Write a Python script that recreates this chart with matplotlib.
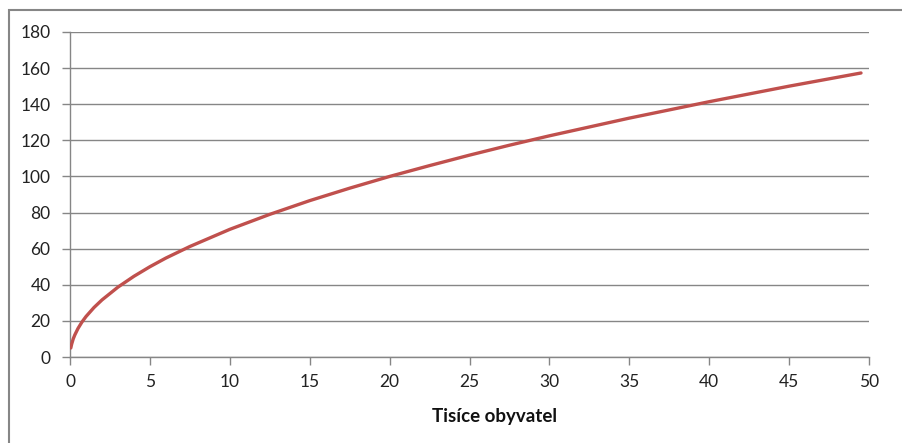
import matplotlib.pyplot as plt
from matplotlib.patches import Rectangle

# values (thousand inhabitants -> value)
tisice = [0.05, 0.1, 0.2, 0.3, 0.5, 0.75, 1, 1.5, 2, 3, 4, 5, 6, 7.5,
          10, 12.5, 15, 17.5, 20, 22.5, 25, 27.5, 30, 35, 40, 45, 49.5]
hodnoty = [5, 7, 10, 12.2, 15.8, 19.4, 22.4, 27.4, 31.6, 38.7, 44.7, 50,
           54.8, 61.2, 70.7, 79, 86.6, 93.5, 100, 106, 111.8, 117.3, 122.5,
           132.3, 141.4, 150, 157.3]

x_ticks = list(range(0, 51, 5))
y_ticks = list(range(0, 181, 20))

grey = '#868686'
plt.rcParams['font.family'] = ['Lato', 'DejaVu Sans']

fig = plt.figure(figsize=(9.02, 4.43), dpi=100)
ax = fig.add_axes([70 / 902, 1 - 357 / 443, 799 / 902, 325 / 443])

# outer chart frame, cut off at the right and bottom
fig.patches.append(Rectangle((9 / 902, -0.1), 1.0, 1 - 10 / 443 + 0.1,
                             transform=fig.transFigure, fill=False,
                             edgecolor=grey, linewidth=1.5))

ax.plot(tisice, hodnoty, color='#C0504D', linewidth=2.4,
        solid_capstyle='round', zorder=3)

ax.set_xlim(0, 50)
ax.set_ylim(0, 180)
ax.set_xticks(x_ticks)
ax.set_yticks(y_ticks)
ax.grid(axis='y', color=grey, linewidth=1)
ax.set_axisbelow(True)

for side in ['top', 'right']:
    ax.spines[side].set_visible(False)
for side in ['left', 'bottom']:
    ax.spines[side].set_color(grey)
    ax.spines[side].set_linewidth(1)

ax.tick_params(axis='both', colors=grey, length=6, width=1,
               labelcolor='#222222', labelsize=12.5)
ax.tick_params(axis='y', pad=8)
ax.tick_params(axis='x', pad=6)

ax.set_xlabel('Tisíce obyvatel', fontsize=13.5, fontweight='bold',
              color='#111111')
ax.xaxis.set_label_coords(0.531, -0.182)
ax.xaxis.label.set_va('center')

fig.savefig('out.png', dpi=100)
